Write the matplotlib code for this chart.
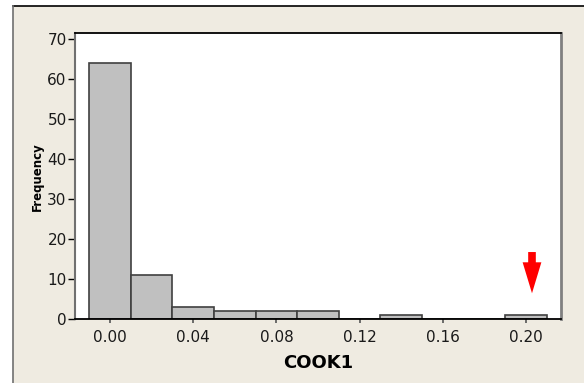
import matplotlib
matplotlib.use("Agg")
import matplotlib.pyplot as plt
from matplotlib.patches import Rectangle
from matplotlib.lines import Line2D

bin_centers = [0.00, 0.02, 0.04, 0.06, 0.08, 0.10, 0.12, 0.14, 0.16, 0.18, 0.20]
counts = [64, 11, 3, 2, 2, 2, 0, 1, 0, 0, 1]
xticks = [0.00, 0.04, 0.08, 0.12, 0.16, 0.20]
xtick_labels = ["0.00", "0.04", "0.08", "0.12", "0.16", "0.20"]
yticks = [0, 10, 20, 30, 40, 50, 60, 70]

W, H = 584, 383
fig = plt.figure(figsize=(W / 100, H / 100), dpi=100, facecolor="white")

# beige panel with frame
fx0 = 12.7 / W
fy1 = (H - 6) / H
fig.patches.append(Rectangle((fx0, 0), 1 - fx0, fy1, transform=fig.transFigure,
                             facecolor="#EFEBE1", edgecolor="none", zorder=-10))
fig.lines.append(Line2D([fx0, 1], [fy1, fy1], transform=fig.transFigure, color="black", lw=1.2, zorder=-5))
fig.lines.append(Line2D([fx0, fx0], [0, fy1], transform=fig.transFigure, color="#707070", lw=1.2, zorder=-5))

left, right, top, bottom = 75, 560.7, 33.3, 319.3
ax = fig.add_axes([left / W, 1 - bottom / H, (right - left) / W, (bottom - top) / H])
ax.set_zorder(5)
ax.set_facecolor("white")

ax.bar(bin_centers, counts, width=0.02, color="#C0C0C0", edgecolor="#404040", linewidth=1.2)

ax.set_xlim(-0.01683, 0.2167)
ax.set_ylim(0, 71.43)
ax.set_xticks(xticks)
ax.set_xticklabels(xtick_labels)
ax.set_yticks(yticks)
ax.tick_params(axis="x", direction="out", length=3, width=1.2, color="#555555",
               labelsize=11, labelcolor="#1a1a1a", pad=5)
ax.tick_params(axis="y", direction="out", length=5, width=1, color="black",
               labelsize=11, labelcolor="#1a1a1a", pad=1)
ax.spines["top"].set_color("black")
ax.spines["bottom"].set_color("black")
ax.spines["left"].set_color("#707070")
ax.spines["right"].set_color("#808080")
ax.spines["top"].set_linewidth(1.3)
ax.spines["bottom"].set_linewidth(1.3)
ax.spines["left"].set_linewidth(1.5)
ax.spines["right"].set_linewidth(2)

ax.set_xlabel("COOK1", fontsize=13, fontweight="bold", labelpad=6.5)
ax.set_ylabel("Frequency", fontsize=8.5, fontweight="bold", labelpad=2.5)

ax.annotate("", xy=(0.2029, 6.5), xytext=(0.2029, 16.8),
            arrowprops=dict(arrowstyle="simple,head_length=22.3,head_width=13.5,tail_width=5.5",
                            mutation_scale=1, fc="red", ec="red", shrinkA=0, shrinkB=0, lw=0))

fig.savefig("out.png", dpi=100, facecolor=fig.get_facecolor())
